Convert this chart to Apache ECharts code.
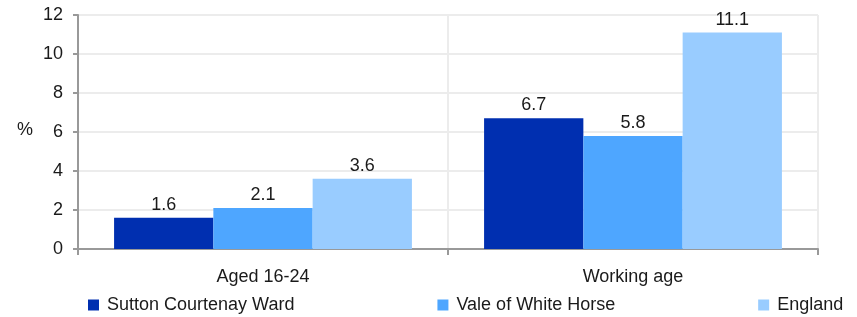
<!DOCTYPE html>
<html>
<head>
<meta charset="utf-8">
<script src="https://cdn.jsdelivr.net/npm/echarts@6/dist/echarts.min.js"></script>
<style>
  html, body { margin: 0; padding: 0; background: #fff; }
  #chart { width: 857px; height: 317px; }
</style>
</head>
<body>
<div id="chart"></div>
<script>
const categories = ['Aged 16-24', 'Working age']
const suttonCourtenay = [1.6, 6.7]
const valeOfWhiteHorse = [2.1, 5.8]
const england = [3.6, 11.1]

const chart = echarts.init(document.getElementById('chart'))

const font = 'Liberation Sans, Arial, sans-serif'

const labelStyle = {
  show: true,
  position: 'top',
  distance: 4,
  color: '#1a1a1a',
  fontSize: 18,
  fontFamily: font
}

const option = {
  animation: false,
  textStyle: { fontFamily: font },
  grid: {
    left: 78,
    right: 39,
    top: 15,
    bottom: 68
  },
  legend: {
    top: 291,
    left: 83,
    icon: 'rect',
    itemWidth: 11,
    itemHeight: 11,
    itemGap: 143,
    textStyle: { fontSize: 18, color: '#1a1a1a', padding: [0, 0, 0, 3] },
    data: ['Sutton Courtenay Ward', 'Vale of White Horse', 'England']
  },
  graphic: [
    {
      type: 'text',
      left: 17,
      top: 121,
      style: { text: '%', fontSize: 18, fill: '#1a1a1a', fontFamily: font }
    }
  ],
  xAxis: {
    type: 'category',
    data: categories,
    axisLine: { lineStyle: { color: '#999', width: 2 } },
    axisTick: { show: true, length: 6, lineStyle: { color: '#999', width: 2 } },
    axisLabel: { fontSize: 18, color: '#1a1a1a', margin: 19 },
    splitLine: { show: true, lineStyle: { color: '#ececec', width: 2 } }
  },
  yAxis: {
    type: 'value',
    min: 0,
    max: 12,
    interval: 2,
    axisLine: { show: true, lineStyle: { color: '#999', width: 2 } },
    axisTick: { show: true, length: 5, lineStyle: { color: '#999', width: 2 } },
    axisLabel: { fontSize: 18, color: '#1a1a1a', margin: 15 },
    splitLine: { show: true, lineStyle: { color: '#ececec', width: 2 } }
  },
  series: [
    {
      name: 'Sutton Courtenay Ward',
      type: 'bar',
      data: suttonCourtenay,
      itemStyle: { color: '#002fb0' },
      barGap: 0,
      barCategoryGap: '19.5%',
      label: labelStyle
    },
    {
      name: 'Vale of White Horse',
      type: 'bar',
      data: valeOfWhiteHorse,
      itemStyle: { color: '#4ea6ff' },
      label: labelStyle
    },
    {
      name: 'England',
      type: 'bar',
      data: england,
      itemStyle: { color: '#99ccff' },
      label: labelStyle
    }
  ]
}

chart.setOption(option)
</script>
</body>
</html>
